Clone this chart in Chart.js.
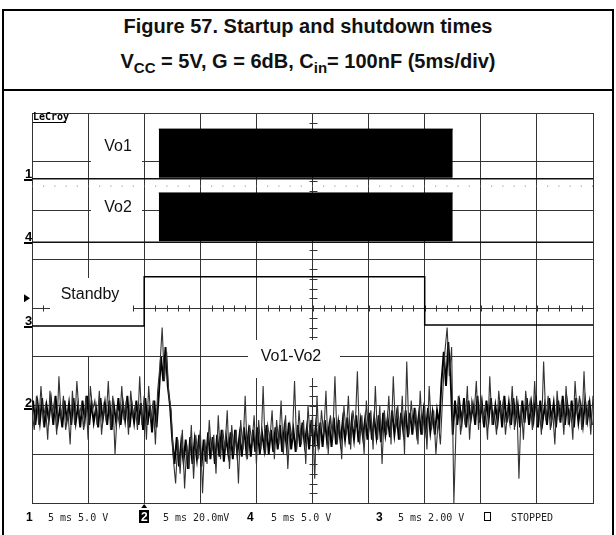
<!DOCTYPE html>
<html>
<head>
<meta charset="utf-8">
<script src="https://cdn.jsdelivr.net/npm/chart.js@4.4.1/dist/chart.umd.min.js"></script>
<style>
  body { margin: 0; background: #fff; }
  #page { position: relative; width: 616px; height: 535px; overflow: hidden; background: #fff; font-family: "Liberation Sans", Arial, sans-serif; }
  .rule { position: absolute; background: #000; }
  .ttl { position: absolute; left: 0; width: 616px; text-align: center; font-weight: bold; font-size: 20px; color: #111; white-space: nowrap; line-height: 22px; }
  .ttl sub { font-size: 15px; vertical-align: -5px; line-height: 0; }
  canvas { position: absolute; left: 0; top: 0; }
</style>
</head>
<body>
<div id="page">
  <div class="rule" style="left:2px;top:9px;width:2px;height:526px"></div>
  <div class="rule" style="left:612px;top:9px;width:2px;height:526px"></div>
  <div class="rule" style="left:2px;top:9px;width:612px;height:2px"></div>
  <div class="rule" style="left:2px;top:89px;width:612px;height:2px"></div>
  <div class="ttl" style="top:15px">Figure 57. Startup and shutdown times</div>
  <div class="ttl" style="top:50px">V<sub>CC</sub> = 5V, G = 6dB, C<sub>in</sub>= 100nF (5ms/div)</div>
  <canvas id="scope" width="616" height="535"></canvas>
</div>
<script>
// scope screen: 10 x 8 divisions, 5 ms/div, time relative to the trigger (standby edge)
const timeMin = -10, timeMax = 40, divsHigh = 8;

// channel ground levels on screen (divisions from the bottom)
const vo1Level = 6.65, vo2Level = 5.35, standbyRef = 3.63, diffRef = 1.95;
const trigLevel = 4.2;
const dotRow = 6.5;

// amplifier burst on Vo1 / Vo2: on and off time (ms), envelope (div)
const burstTimes = [1.3, 27.5];
const vo1Envelope = [6.67, 7.67];
const vo2Envelope = [5.37, 6.36];

// standby pin
const standbyTimes  = [-10, 0, 0, 25, 25, 40];
const standbyLevels = [3.63, 3.63, 4.64, 4.64, 3.65, 3.65];

// Vo1-Vo2 peaks, one sample every 0.2 ms from -10 ms (div)
const diffStep = 0.2;
const diffPeaks = [
  1.9, 1.5, 2.2, 1.6, 2.4, 1.7, 2.0, 1.3, 2.3, 1.8,
  2.1, 1.4, 2.6, 1.7, 2.2, 1.5, 1.9, 1.2, 2.3, 1.6,
  2.5, 1.8, 2.0, 1.5, 2.2, 1.3, 2.4, 1.9, 2.1, 1.6,
  2.3, 1.4, 2.0, 1.7, 2.5, 1.5, 2.2, 1.0, 1.9, 1.6,
  2.4, 1.7, 2.1, 1.4, 2.3, 1.8, 2.0, 1.5, 2.6, 1.6,
  2.2, 1.3, 2.4, 1.7, 2.1, 1.2, 2.3, 2.8, 3.6, 2.5,
  3.1, 2.2, 1.9, 0.9, 0.4, 1.3, 0.6, 1.5, 0.3, 1.2,
  0.7, 1.6, 0.5, 1.4, 0.9, 1.5, 0.2, 1.3, 0.8, 1.7,
  1.0, 1.4, 0.6, 1.8, 0.9, 1.5, 1.1, 1.9, 0.7, 1.6,
  1.0, 1.5, 0.4, 1.7, 1.1, 2.2, 0.9, 1.6, 1.2, 1.8,
  0.8, 1.7, 1.1, 2.4, 1.0, 1.6, 1.3, 1.9, 0.9, 1.7,
  1.2, 2.1, 1.0, 1.8, 0.7, 1.6, 1.3, 2.5, 1.1, 1.9,
  1.2, 1.7, 0.8, 2.0, 1.3, 1.8, 0.5, 2.2, 1.1, 1.9,
  1.4, 2.3, 1.0, 1.8, 1.3, 2.6, 1.2, 1.7, 0.9, 2.0,
  1.4, 2.2, 1.1, 1.9, 1.5, 2.7, 1.2, 1.8, 1.0, 2.1,
  1.4, 1.9, 1.1, 2.4, 1.3, 2.0, 0.8, 1.9, 1.4, 2.2,
  1.2, 2.6, 1.5, 2.0, 1.3, 2.2, 1.0, 2.9, 1.4, 2.1,
  1.5, 1.9, 1.2, 2.3, 1.4, 2.0, 1.1, 2.4, 1.5, 1.9,
  1.0, 1.7, 1.2, 2.2, 3.1, 3.6, 2.6, 3.2, 0.0, 1.6,
  2.2, 1.4, 2.0, 1.6, 2.4, 1.3, 2.1, 1.8, 2.5, 1.5,
  2.2, 1.7, 2.0, 1.3, 2.6, 1.6, 1.9, 1.4, 2.3, 1.8,
  2.1, 1.4, 1.9, 1.6, 2.4, 1.5, 2.2, 0.5, 2.0, 1.3,
  2.3, 1.8, 2.1, 1.5, 2.5, 1.6, 2.0, 1.4, 2.9, 1.7,
  2.2, 1.5, 1.9, 1.2, 2.3, 1.7, 2.1, 1.4, 2.4, 1.6,
  2.0, 1.3, 2.5, 1.8, 2.2, 1.5, 2.7, 1.6, 2.1, 1.4,
  2.2
];

// Vo1-Vo2 dense core, one sample every 0.2 ms from -9.9 ms (div)
const coreStart = -9.9;
const diffCore = [
  2.10, 1.60, 2.05, 1.65, 2.15, 1.55, 2.00, 1.70, 2.10, 1.60,
  2.20, 1.65, 1.95, 1.55, 2.10, 1.70, 2.05, 1.60, 2.15, 1.65,
  2.00, 1.55, 2.10, 1.70, 2.20, 1.60, 2.05, 1.65, 1.95, 1.55,
  2.15, 1.70, 2.05, 1.60, 2.10, 1.50, 2.00, 1.65, 2.15, 1.60,
  2.05, 1.70, 2.20, 1.55, 2.00, 1.65, 2.10, 1.60, 2.05, 1.50,
  2.15, 1.60, 2.00, 1.45, 2.10, 1.55, 2.20, 3.00, 2.50, 3.20,
  2.40, 2.00, 1.30, 0.80, 1.35, 0.75, 1.25, 0.85, 1.30, 0.70,
  1.35, 0.80, 1.30, 0.90, 1.40, 0.75, 1.30, 0.85, 1.45, 0.90,
  1.35, 0.80, 1.40, 0.95, 1.50, 0.85, 1.35, 1.00, 1.45, 0.90,
  1.50, 1.00, 1.40, 0.95, 1.55, 1.05, 1.45, 0.95, 1.50, 1.05,
  1.55, 1.00, 1.45, 1.10, 1.60, 1.00, 1.50, 1.05, 1.55, 1.10,
  1.60, 1.05, 1.55, 1.15, 1.65, 1.10, 1.50, 1.05, 1.60, 1.15,
  1.65, 1.20, 1.55, 1.10, 1.70, 1.15, 1.60, 1.20, 1.65, 1.15,
  1.70, 1.25, 1.60, 1.15, 1.75, 1.20, 1.65, 1.25, 1.70, 1.30,
  1.75, 1.20, 1.70, 1.30, 1.80, 1.25, 1.70, 1.35, 1.75, 1.30,
  1.85, 1.30, 1.75, 1.35, 1.80, 1.25, 1.85, 1.40, 1.75, 1.35,
  1.90, 1.40, 1.80, 1.30, 1.85, 1.45, 1.90, 1.35, 1.85, 1.40,
  1.95, 1.45, 1.85, 1.40, 1.90, 1.50, 1.95, 1.45, 1.85, 1.40,
  1.90, 1.60, 2.50, 3.10, 2.40, 3.30, 2.60, 1.40, 2.10, 1.60,
  2.05, 1.65, 2.15, 1.55, 2.10, 1.70, 2.00, 1.60, 2.20, 1.65,
  2.05, 1.55, 2.10, 1.70, 2.15, 1.60, 2.00, 1.65, 2.10, 1.55,
  2.20, 1.65, 2.05, 1.60, 2.15, 1.70, 2.00, 1.55, 2.10, 1.65,
  2.15, 1.60, 2.05, 1.70, 2.20, 1.55, 2.10, 1.65, 2.00, 1.60,
  2.15, 1.70, 2.05, 1.55, 2.10, 1.65, 2.20, 1.60, 2.05, 1.70,
  2.10, 1.55, 2.15, 1.65, 2.00, 1.60, 2.10, 1.70, 2.05, 1.60
];

// readout under the screen
const footerChannels = ['1', '2', '4', '3'];
const footerSettings = ['5 ms 5.0 V', '5 ms 20.0mV', '5 ms 5.0 V', '5 ms 2.00 V'];
const footerState = 'STOPPED';

const flat = (lvl) => [{x: timeMin, y: lvl}, {x: timeMax, y: lvl}];
const line = (data, extra) => Object.assign({data, showLine: true, pointRadius: 0, borderColor: '#000', borderWidth: 1, fill: false}, extra);

const standbyData = standbyTimes.map((t, i) => ({x: t, y: standbyLevels[i]}));
const peakData = diffPeaks.map((v, i) => ({x: timeMin + i * diffStep, y: v}));
const coreData = diffCore.map((v, i) => ({x: coreStart + i * diffStep, y: v}));

const scopeDecor = {
  id: 'scopeDecor',
  beforeDatasetsDraw(chart) {
    const {ctx, scales: {x, y}} = chart;
    ctx.save();
    ctx.strokeStyle = '#333'; ctx.lineWidth = 1;
    // minor ticks along the centre cross
    const cx = Math.round(x.getPixelForValue(15)) + 0.5, cy = Math.round(y.getPixelForValue(4)) + 0.5;
    ctx.beginPath();
    for (let t = timeMin + 1; t < timeMax; t += 1) {
      const px = Math.round(x.getPixelForValue(t)) + 0.5;
      ctx.moveTo(px, cy - 3); ctx.lineTo(px, cy + 3);
    }
    for (let k = 1; k < divsHigh * 5; k++) {
      const py = Math.round(y.getPixelForValue(k / 5)) + 0.5;
      ctx.moveTo(cx - 4, py); ctx.lineTo(cx + 4, py);
    }
    ctx.stroke();
    // trace names on white patches
    ctx.font = '16px "Liberation Sans", Arial, sans-serif';
    ctx.textAlign = 'center'; ctx.textBaseline = 'middle';
    [['Vo1', 91, 125, 142, 170, 118, 147],
     ['Vo2', 91, 190, 142, 230, 118, 208],
     ['Standby', 50, 278, 133, 356, 90, 295],
     ['Vo1-Vo2', 248, 340, 340, 378, 291, 357]].forEach(([t, x0, y0, x1, y1, tx, ty]) => {
      ctx.fillStyle = '#fff'; ctx.fillRect(x0, y0, x1 - x0, y1 - y0);
      ctx.fillStyle = '#111'; ctx.fillText(t, tx, ty);
    });
    ctx.restore();
  },
  afterDraw(chart) {
    const {ctx, chartArea: a, scales: {x, y}} = chart;
    ctx.save();
    ctx.fillStyle = '#000'; ctx.strokeStyle = '#000';
    // LeCroy badge
    ctx.font = 'bold 10px "DejaVu Sans Mono", monospace';
    ctx.textAlign = 'left'; ctx.textBaseline = 'alphabetic';
    ctx.fillText('LeCroy', a.left + 1, a.top + 7);
    ctx.fillRect(a.left + 1, a.top + 9, 33, 1);
    // channel ground markers
    ctx.font = 'bold 13px "Liberation Sans", Arial, sans-serif';
    [['1', vo1Level], ['4', vo2Level], ['3', standbyRef], ['2', diffRef]].forEach(([n, lvl]) => {
      const py = Math.round(y.getPixelForValue(lvl));
      ctx.fillText(n, a.left - 7, py - 1);
      ctx.fillRect(a.left - 8, py, 8, 2);
    });
    // trigger level arrow
    const ty = y.getPixelForValue(trigLevel);
    ctx.beginPath(); ctx.moveTo(a.left - 8, ty - 4); ctx.lineTo(a.left - 2, ty); ctx.lineTo(a.left - 8, ty + 4); ctx.fill();
    // trigger position arrow under the screen
    const tx = x.getPixelForValue(0);
    ctx.beginPath(); ctx.moveTo(tx - 3, a.bottom + 5); ctx.lineTo(tx, a.bottom + 1); ctx.lineTo(tx + 3, a.bottom + 5); ctx.fill();
    // readout line
    const base = a.bottom + 18;
    const chX = [26, 141, 247, 376], setX = [48, 163, 271, 398];
    footerChannels.forEach((n, i) => {
      ctx.font = 'bold 12px "Liberation Sans", Arial, sans-serif';
      if (n === '2') {
        ctx.fillRect(chX[i] - 2, base - 11, 10, 13);
        ctx.fillStyle = '#fff'; ctx.fillText(n, chX[i], base); ctx.fillStyle = '#000';
      } else {
        ctx.fillText(n, chX[i], base);
      }
      ctx.font = '10px "DejaVu Sans Mono", monospace';
      ctx.fillStyle = '#222';
      ctx.fillText(footerSettings[i], setX[i], base);
      ctx.fillStyle = '#000';
    });
    ctx.lineWidth = 1;
    ctx.strokeRect(484.5, base - 8.5, 6, 8);
    ctx.font = '10px "DejaVu Sans Mono", monospace';
    ctx.fillStyle = '#222';
    ctx.fillText(footerState, 511, base);
    ctx.restore();
  }
};

new Chart(document.getElementById('scope'), {
  type: 'scatter',
  data: {
    datasets: [
      line([{x: burstTimes[0], y: vo1Envelope[1]}, {x: burstTimes[1], y: vo1Envelope[1]}], {backgroundColor: '#000', fill: {value: vo1Envelope[0]}}),
      line([{x: burstTimes[0], y: vo2Envelope[1]}, {x: burstTimes[1], y: vo2Envelope[1]}], {backgroundColor: '#000', fill: {value: vo2Envelope[0]}}),
      line(flat(vo1Level), {borderWidth: 1.6, borderColor: '#111'}),
      line(flat(vo2Level), {borderWidth: 1.6, borderColor: '#111'}),
      line(flat(dotRow), {borderColor: '#777', borderDash: [1, 10.2]}),
      line(standbyData, {borderWidth: 1.5}),
      line(peakData, {borderColor: '#333', borderWidth: 1.1}),
      line(coreData, {borderColor: '#000', borderWidth: 1.9})
    ]
  },
  options: {
    responsive: false,
    animation: false,
    devicePixelRatio: 1,
    layout: {padding: {left: 32, right: 23, top: 113, bottom: 32}},
    plugins: {legend: {display: false}, tooltip: {enabled: false}},
    scales: {
      x: {type: 'linear', min: timeMin, max: timeMax,
          ticks: {display: false, stepSize: 5},
          grid: {color: '#333', drawTicks: false},
          border: {display: true, color: '#333'}},
      y: {type: 'linear', min: 0, max: divsHigh,
          ticks: {display: false, stepSize: 1},
          grid: {color: '#333', drawTicks: false},
          border: {display: true, color: '#333'}}
    }
  },
  plugins: [scopeDecor]
});
</script>
</body>
</html>
